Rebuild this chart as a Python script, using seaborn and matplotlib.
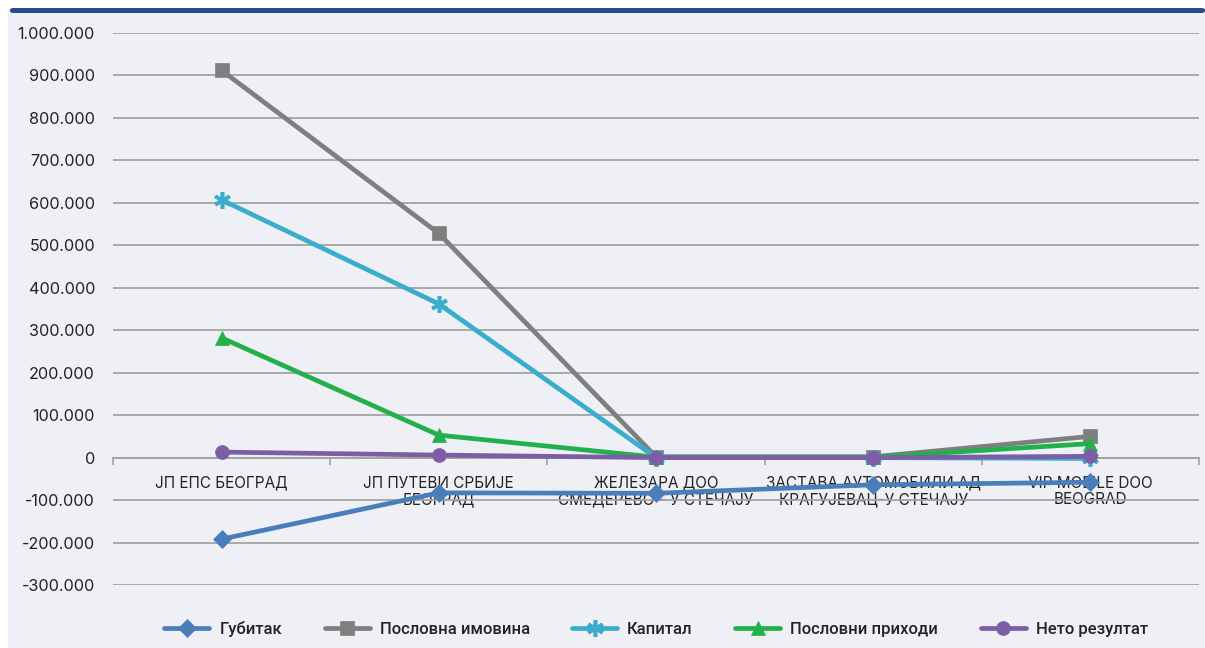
import numpy as np
import pandas as pd
import matplotlib
matplotlib.use("Agg")
import matplotlib.pyplot as plt
from matplotlib.patches import Rectangle, FancyBboxPatch
from matplotlib.ticker import FuncFormatter, FixedLocator
import seaborn as sns

categories = ["ЈП ЕПС БЕОГРАД", "ЈП ПУТЕВИ СРБИЈЕ\nБЕОГРАД", "ЖЕЛЕЗАРА ДОО\nСМЕДЕРЕВО - У СТЕЧАЈУ",
              "ЗАСТАВА АУТОМОБИЛИ АД\nКРАГУЈЕВАЦ-У СТЕЧАЈУ", "VIP MOBILE DOO\nBEOGRAD"]
series_names = ["Губитак", "Пословна имовина", "Капитал", "Пословни приходи", "Нето резултат"]
gubitak = [-192000, -83000, -84000, -64000, -58000]
imovina = [912000, 528000, 2000, 2000, 50000]
kapital = [607000, 362000, 0, 0, -2000]
prihodi = [282000, 53000, 1000, 1000, 33000]
neto = [13000, 6000, 0, 0, 3000]
y_ticks = [-300000, -200000, -100000, 0, 100000, 200000, 300000, 400000, 500000,
           600000, 700000, 800000, 900000, 1000000]

colors = ["#4a7ebb", "#7f7f7f", "#3aaccc", "#22b04b", "#7d5ea6"]
markers = ["D", "s", (6, 2, 0), "^", "o"]
msizes = [9.5, 10, 12, 10.5, 10]
bg = "#eef0f6"

sns.set_theme(style="white")
plt.rcParams["font.family"] = ["Inter", "DejaVu Sans"]

fig = plt.figure(figsize=(12.05, 6.48), dpi=100)
fig.patch.set_facecolor("white")
panel = Rectangle((8/1205, 0), 1 - 8/1205, 1 - 13/648, transform=fig.transFigure,
                  facecolor=bg, edgecolor="none", zorder=-10)
fig.add_artist(panel)
bar = FancyBboxPatch((10/1205, 1 - 13/648), 1 - 10/1205, 5/648, transform=fig.transFigure,
                     boxstyle="round,pad=0,rounding_size=0.003",
                     facecolor="#2b4a8e", edgecolor="none", zorder=-9)
fig.add_artist(bar)

ax = fig.add_axes([113/1205, 1 - 585/648, (1199 - 113)/1205, (585 - 33)/648])
ax.set_zorder(5)
ax.set_facecolor(bg)

x = np.arange(len(categories))
all_vals = [gubitak, imovina, kapital, prihodi, neto]
df = pd.DataFrame({
    "x": np.tile(x, len(series_names)),
    "value": np.concatenate(all_vals),
    "series": np.repeat(series_names, len(categories)),
})

for name, c, m, ms in zip(series_names, colors, markers, msizes):
    sub = df[df.series == name]
    star = m == (6, 2, 0)
    sns.lineplot(data=sub, x="x", y="value", ax=ax, color=c, linewidth=3.4,
                 marker=m, markersize=ms, markeredgecolor=c,
                 markeredgewidth=2.6 if star else 0.5, label=name, zorder=3)

ax.set_xlim(-0.5, len(categories) - 0.5)
ax.set_ylim(-300000, 1000000)
ax.set_yticks(y_ticks)
ax.yaxis.set_major_formatter(FuncFormatter(lambda v, p: f"{int(v):,}".replace(",", ".")))
ax.yaxis.grid(True, color="#a3a3a3", linewidth=1.3)
ax.set_axisbelow(True)
for s in ["top", "right", "left"]:
    ax.spines[s].set_visible(False)
ax.spines["bottom"].set_position(("data", 0))
ax.spines["bottom"].set_color("#a3a3a3")
ax.spines["bottom"].set_linewidth(1.3)
ax.set_xticks(x)
ax.set_xticklabels(categories, fontsize=11, color="#222222", linespacing=1.15)
ax.xaxis.set_minor_locator(FixedLocator(np.arange(len(categories) + 1) - 0.5))
ax.tick_params(axis="x", which="major", length=0, pad=13)
ax.tick_params(axis="x", which="minor", length=5, color="#a3a3a3", width=1.2, direction="out", bottom=True)
ax.tick_params(axis="y", length=0, pad=13, labelsize=11.7, labelcolor="#222222")
ax.set_xlabel("")
ax.set_ylabel("")

leg = ax.legend(loc="center", bbox_to_anchor=(0.5, -0.08), ncol=5, frameon=False,
                prop={"family": ["Roboto", "DejaVu Sans"], "size": 12, "weight": "medium"},
                handlelength=2.7, columnspacing=2.55, handletextpad=0.6,
                labelcolor="#222222")

fig.savefig("out.png", dpi=100, facecolor=fig.get_facecolor())
